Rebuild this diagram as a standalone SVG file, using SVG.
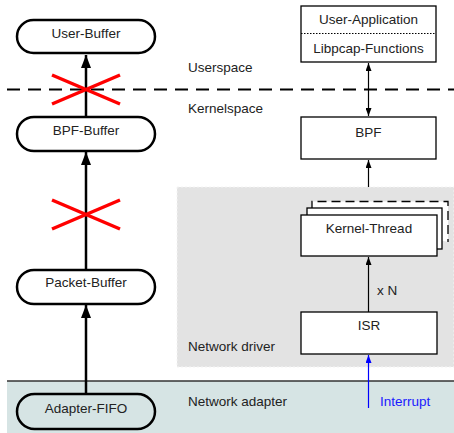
<svg xmlns="http://www.w3.org/2000/svg" width="454" height="433" viewBox="0 0 454 433">
<style>
text{font-family:"Liberation Sans",Arial,sans-serif;font-size:13.5px;fill:#222}
.c{text-anchor:middle}
.st{fill:#fff;stroke:#000;stroke-width:2.5}
.bx{fill:#fff;stroke:#000;stroke-width:1.3}
.ar{stroke:#000;stroke-width:2.5;fill:none}
.thin{stroke:#000;stroke-width:1.2;fill:none}
.x{stroke:#ff0000;stroke-width:3.5}
</style>
<defs>
<marker id="big" markerWidth="13" markerHeight="10" refX="13" refY="5" orient="auto-start-reverse" markerUnits="userSpaceOnUse" viewBox="0 0 13 10"><path d="M0,0 L13,5 L0,10 Z" fill="#000"/></marker>
<marker id="sm" markerWidth="8" markerHeight="6" refX="8" refY="3" orient="auto-start-reverse" markerUnits="userSpaceOnUse" viewBox="0 0 8 6"><path d="M0,0 L8,3 L0,6 Z" fill="#000"/></marker>
<marker id="smb" markerWidth="8" markerHeight="6" refX="8" refY="3" orient="auto-start-reverse" markerUnits="userSpaceOnUse" viewBox="0 0 8 6"><path d="M0,0 L8,3 L0,6 Z" fill="#0000ff"/></marker>
</defs>
<g id="adapter-region">
<rect x="7" y="381" width="447" height="52" fill="#d6e4e4"/>
<line x1="7" y1="381" x2="454" y2="381" stroke="#333" stroke-width="1.5"/>
<text x="188" y="406">Network adapter</text>
</g>
<g id="driver-region">
<rect x="177" y="187" width="277" height="180" fill="#e3e3e3" stroke="#f4f4f4" stroke-width="1" stroke-dasharray="2,2"/>
<text x="188" y="351">Network driver</text>
</g>
<g id="space-divider">
<line x1="7" y1="89.5" x2="454" y2="89.5" stroke="#000" stroke-width="2" stroke-dasharray="13,8"/>
<text x="188" y="72">Userspace</text>
<text x="188" y="113">Kernelspace</text>
</g>
<g id="connectors">
<line class="ar" x1="86" y1="117" x2="86" y2="55" marker-end="url(#big)"/>
<line class="ar" x1="86" y1="270" x2="86" y2="152" marker-end="url(#big)"/>
<line class="ar" x1="86" y1="394" x2="86" y2="305" marker-end="url(#big)"/>
<line class="thin" x1="368.5" y1="63" x2="368.5" y2="116" marker-start="url(#sm)" marker-end="url(#sm)"/>
<line class="thin" x1="368.5" y1="187" x2="368.5" y2="160" marker-end="url(#sm)"/>
<line class="thin" x1="368.5" y1="312" x2="368.5" y2="257" marker-end="url(#sm)"/>
<line x1="368.5" y1="408" x2="368.5" y2="355" stroke="#0000ff" stroke-width="1.2" marker-end="url(#smb)"/>
<text x="377" y="295">x N</text>
<text x="380" y="406" style="fill:#1a1aff">Interrupt</text>
</g>
<g id="crosses">
<line class="x" x1="52" y1="75" x2="120" y2="104"/>
<line class="x" x1="52" y1="104" x2="120" y2="75"/>
<line class="x" x1="52" y1="200" x2="120" y2="229"/>
<line class="x" x1="52" y1="229" x2="120" y2="200"/>
</g>
<g id="user-buffer">
<rect class="st" x="17" y="20" width="138" height="33" rx="16.5"/>
<text class="c" x="86" y="38">User-Buffer</text>
</g>
<g id="bpf-buffer">
<rect class="st" x="17" y="117" width="138" height="34" rx="17"/>
<text class="c" x="86" y="135">BPF-Buffer</text>
</g>
<g id="packet-buffer">
<rect class="st" x="17" y="270" width="138" height="34" rx="17"/>
<text class="c" x="86" y="287">Packet-Buffer</text>
</g>
<g id="adapter-fifo">
<rect class="st" x="17" y="394" width="138" height="35" rx="17.5" style="fill:#d6e4e4"/>
<text class="c" x="86" y="413">Adapter-FIFO</text>
</g>
<g id="user-application">
<rect class="bx" x="301" y="6" width="135" height="56"/>
<line x1="301" y1="33.5" x2="436" y2="33.5" stroke="#000" stroke-width="1" stroke-dasharray="1.5,1.5"/>
<text class="c" x="368.5" y="24">User-Application</text>
<text class="c" x="368.5" y="53">Libpcap-Functions</text>
</g>
<g id="bpf">
<rect class="bx" x="301" y="117" width="135" height="42"/>
<text class="c" x="368.5" y="137">BPF</text>
</g>
<g id="kernel-thread">
<path d="M312,210 V201.5 H448 V242" fill="#fff" stroke="#000" stroke-width="1.3" stroke-dasharray="9,5"/>
<rect class="bx" x="307" y="208" width="135" height="41"/>
<rect class="bx" x="301" y="215" width="136" height="41"/>
<text class="c" x="369" y="233">Kernel-Thread</text>
</g>
<g id="isr">
<rect class="bx" x="301" y="312" width="136" height="42"/>
<text class="c" x="369" y="330">ISR</text>
</g>
</svg>
